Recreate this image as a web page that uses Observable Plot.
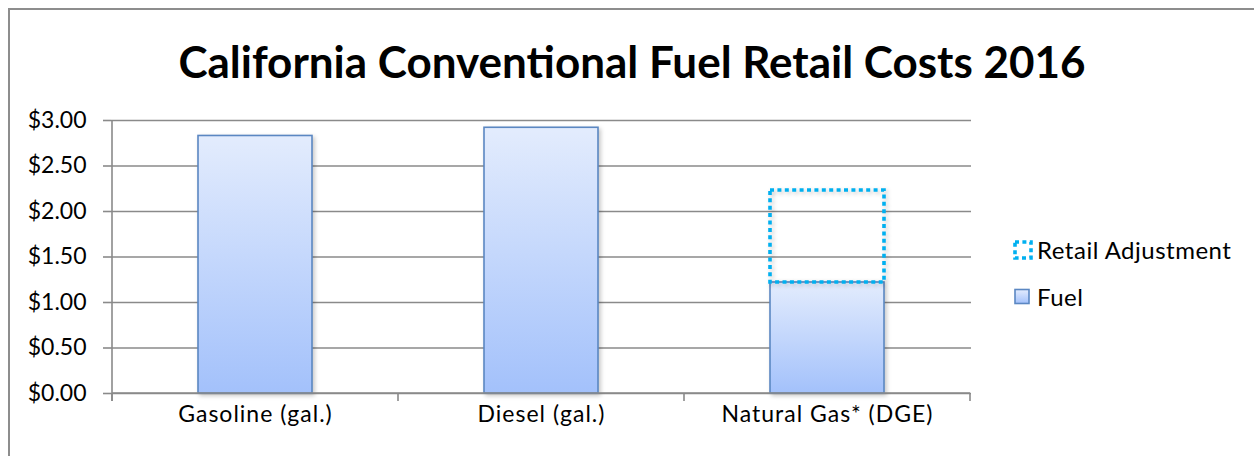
<!DOCTYPE html>
<html>
<head>
<meta charset="utf-8">
<script src="https://cdn.jsdelivr.net/npm/d3@7"></script>
<script src="https://cdn.jsdelivr.net/npm/@observablehq/plot@0.6"></script>
<style>
  html, body { margin: 0; padding: 0; background: #fff; }
  #wrap { position: relative; width: 1254px; height: 456px; overflow: hidden; background: #fff; font-family: Lato, "Open Sans", sans-serif; }
  #frame { position: absolute; left: 8px; top: 8px; width: 2000px; height: 1000px; border: 2px solid #8d8d8d; box-sizing: border-box; }
  #title { position: absolute; left: 0; width: 1264px; top: 35px; text-align: center; font-weight: 700; font-size: 44px; color: #000; white-space: nowrap; }
  #chart { position: absolute; left: 0; top: 0; }
  .leg { position: absolute; left: 1012px; display: flex; align-items: center; font-size: 24px; letter-spacing: 0.5px; color: #000; white-space: nowrap; }
  .leg svg { margin-right: 3px; }
</style>
</head>
<body>
<div id="wrap">
  <div id="frame"></div>
  <div id="title">California Conventional Fuel Retail Costs 2016</div>
  <div id="chart"></div>
  <div class="leg" id="leg0" style="top:235px"></div>
  <div class="leg" id="leg1" style="top:282px"></div>
</div>
<script>
const categories = ["Gasoline (gal.)", "Diesel (gal.)", "Natural Gas* (DGE)"];
const fuel = [2.83, 2.92, 1.22];
const retailAdjustment = [0, 0, 1.01];
const yTicks = [0, 0.5, 1, 1.5, 2, 2.5, 3];
const seriesNames = ["Retail Adjustment", "Fuel"];

const fuelRows = categories.map((c, i) => ({category: c, y1: 0, y2: fuel[i]}));
const adjRows = categories
  .map((c, i) => ({category: c, y1: fuel[i], y2: fuel[i] + retailAdjustment[i], v: retailAdjustment[i]}))
  .filter(d => d.v > 0);

const gridColor = "#8a8a8a";
const plot = Plot.plot({
  width: 1254,
  height: 456,
  marginLeft: 111,
  marginRight: 283,
  marginTop: 120,
  marginBottom: 63,
  style: {fontFamily: "Lato, 'Open Sans', sans-serif", fontSize: "22px", color: "#000", background: "transparent", overflow: "visible"},
  x: {domain: categories, paddingInner: 0.6, paddingOuter: 0.3, label: null},
  y: {domain: [0, 3], label: null},
  marks: [
    Plot.ruleY(yTicks, {stroke: gridColor, strokeWidth: 1.6}),
    Plot.axisY({ticks: yTicks, tickSize: 8, tickPadding: 17, tickFormat: d => "$" + d.toFixed(2), stroke: gridColor, strokeWidth: 1.6, fontSize: 23, label: null}),
    Plot.axisX({tickSize: 0, tickPadding: 12, fontSize: 23, label: null}),
    Plot.barY(fuelRows, {x: "category", y1: "y1", y2: "y2", fill: "url(#fuelGrad)", stroke: "#5b87c2", strokeWidth: 1.6, className: "fuelbars"}),
    Plot.barY(adjRows, {x: "category", y1: "y1", y2: "y2", fill: "none", stroke: "#00b0f0", strokeWidth: 3.6, strokeDasharray: "4 3.4", className: "adjbars"})
  ]
});

const svg = d3.select(plot);
const defs = svg.insert("defs", ":first-child");
const g = defs.append("linearGradient").attr("id", "fuelGrad").attr("x1", 0).attr("y1", 0).attr("x2", 0).attr("y2", 1);
g.append("stop").attr("offset", "0%").attr("stop-color", "#e3ecfd");
g.append("stop").attr("offset", "100%").attr("stop-color", "#a3c1fb");
svg.selectAll(".fuelbars, .adjbars").style("filter", "drop-shadow(2px 2px 2px rgba(0,0,0,0.22))");
svg.selectAll("[aria-label='x-axis tick label'] text").style("letter-spacing", "1px");

// category boundary ticks and y axis line, from the plot's own scales
const xs = plot.scale("x");
const ys = plot.scale("y");
const y0 = ys.apply(0), yTop = ys.apply(3);
const bounds = [];
for (let i = 0; i <= categories.length; i++) {
  const c = categories[Math.min(i, categories.length - 1)];
  const center = xs.apply(c) + xs.bandwidth / 2;
  bounds.push(i < categories.length ? center - xs.step / 2 : center + xs.step / 2);
}
const ax = svg.append("g").attr("stroke", gridColor).attr("stroke-width", 1.6);
bounds.forEach(b => ax.append("line").attr("x1", b).attr("x2", b).attr("y1", y0).attr("y2", y0 + 8));
ax.append("line").attr("x1", bounds[0]).attr("x2", bounds[0]).attr("y1", yTop).attr("y2", y0 + 8);
ax.append("line").attr("x1", bounds[0]).attr("x2", bounds[bounds.length - 1]).attr("y1", y0).attr("y2", y0);

document.getElementById("chart").appendChild(plot);

// legend
const sw0 = `<svg width="22" height="22"><rect x="3" y="3" width="16" height="16" fill="none" stroke="#00b0f0" stroke-width="3.6" stroke-dasharray="4 3.4"/></svg>`;
const sw1 = `<svg width="22" height="22"><defs><linearGradient id="lg1" x1="0" y1="0" x2="0" y2="1"><stop offset="0%" stop-color="#e3ecfd"/><stop offset="100%" stop-color="#a3c1fb"/></linearGradient></defs><rect x="3" y="3.5" width="14" height="14" fill="url(#lg1)" stroke="#5b87c2" stroke-width="1.6"/></svg>`;
document.getElementById("leg0").innerHTML = sw0 + `<span>${seriesNames[0]}</span>`;
document.getElementById("leg1").innerHTML = sw1 + `<span>${seriesNames[1]}</span>`;
</script>
</body>
</html>
